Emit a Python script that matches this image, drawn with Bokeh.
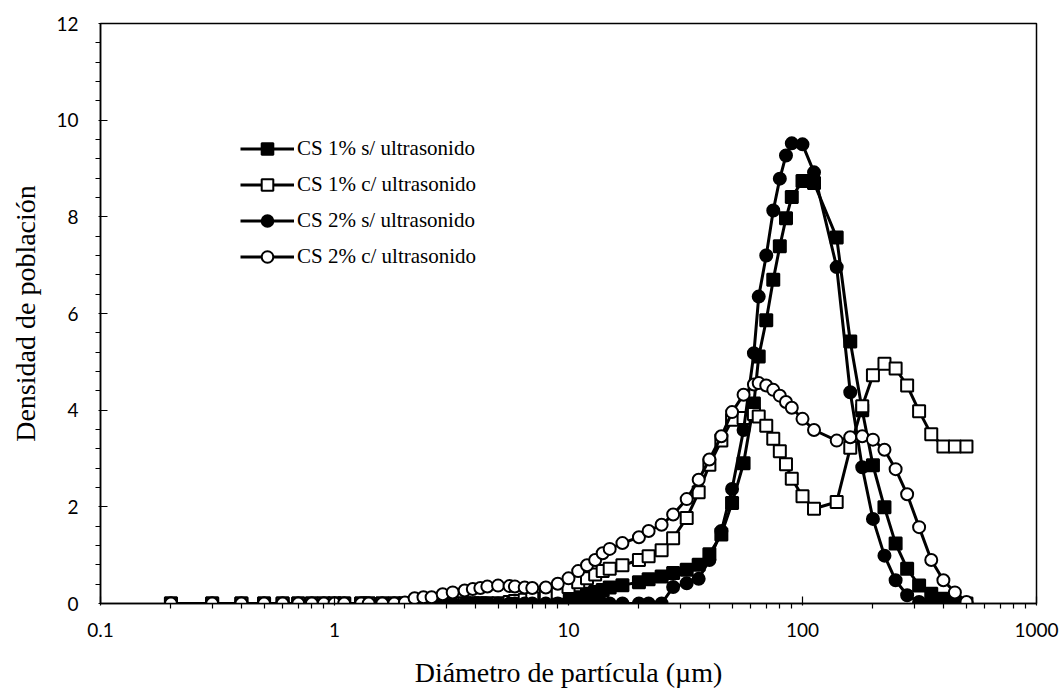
from bokeh.plotting import figure
from bokeh.models import (FixedTicker, CustomJSTickFormatter, Legend, LegendItem,
                          Range1d)
from bokeh.embed import file_html
from bokeh.resources import INLINE

# Particle diameter (µm), shared by all four distributions
diametro = [0.2, 0.3, 0.4, 0.5, 0.6, 0.7, 0.8, 0.9, 1.0,
            1.1, 1.3, 1.4, 1.6, 1.8, 2.0,
            2.2, 2.4, 2.6, 2.9, 3.2,
            3.6, 3.9, 4.2, 4.5, 5.0,
            5.6, 5.9, 6.5, 7.0, 8.0, 9.0,
            10, 11, 12, 13, 14, 15, 17, 20, 22, 25,
            28, 32, 36, 40, 45, 50, 56, 62, 65, 70,
            75, 80, 85, 90, 100, 112, 140, 160, 180, 200,
            224, 250, 280, 315, 355, 400, 448, 502]

# Population density for each sample
cs1_sin = ([0.0] * 9 + [0.0] * 6 + [0.0] * 5 + [0.0] * 5 +
           [0.0, 0.0, 0.0, 0.0, 0.0, 0.03] +
           [0.06, 0.13, 0.20, 0.24, 0.28, 0.33, 0.38, 0.44, 0.50, 0.56] +
           [0.63, 0.70, 0.80, 1.02, 1.43, 2.08, 2.90, 4.14, 5.11, 5.86] +
           [6.70, 7.39, 7.97, 8.41, 8.74, 8.70, 7.57, 5.42, 4.00, 2.86] +
           [1.99, 1.24, 0.72, 0.37, 0.20, 0.10, 0.03, 0.0])

cs1_con = ([0.0] * 9 + [0.0] * 6 + [0.0] * 5 + [0.0] * 5 +
           [0.03, 0.05, 0.08, 0.11, 0.17, 0.22] +
           [0.34, 0.44, 0.52, 0.60, 0.67, 0.72, 0.79, 0.90, 0.98, 1.10] +
           [1.35, 1.77, 2.30, 2.87, 3.37, 3.80, 3.84, 3.92, 3.87, 3.68] +
           [3.41, 3.15, 2.88, 2.58, 2.22, 1.96, 2.10, 3.22, 4.08, 4.72] +
           [4.96, 4.86, 4.51, 3.98, 3.50, 3.25, 3.25, 3.25])

cs2_sin = ([0.0] * 9 + [0.0] * 6 + [0.0] * 5 + [0.0] * 5 + [0.0] * 6 +
           [0.0] * 10 +
           [0.34, 0.42, 0.51, 0.90, 1.50, 2.37, 3.59, 5.18, 6.35, 7.20] +
           [8.13, 8.79, 9.27, 9.52, 9.50, 8.92, 6.96, 4.37, 2.82, 1.75] +
           [0.99, 0.48, 0.17, 0.03, 0.0, 0.0, 0.0, 0.0])

cs2_con = ([0.0] * 9 +
           [0.0, 0.0, 0.0, 0.0, 0.0, 0.02] +
           [0.11, 0.13, 0.13, 0.19, 0.23] +
           [0.27, 0.30, 0.32, 0.35, 0.37] +
           [0.36, 0.35, 0.33, 0.32, 0.33, 0.41] +
           [0.52, 0.67, 0.79, 0.90, 1.04, 1.13, 1.25, 1.37, 1.50, 1.63] +
           [1.84, 2.16, 2.56, 2.98, 3.46, 3.96, 4.32, 4.53, 4.56, 4.51] +
           [4.42, 4.30, 4.17, 4.05, 3.82, 3.59, 3.37, 3.44, 3.46, 3.39] +
           [3.18, 2.78, 2.26, 1.58, 0.90, 0.48, 0.23, 0.03])

etiquetas = ["CS 1% s/ ultrasonido", "CS 1% c/ ultrasonido",
             "CS 2% s/ ultrasonido", "CS 2% c/ ultrasonido"]
series = [cs1_sin, cs1_con, cs2_sin, cs2_con]
marcadores = ["square", "square", "circle", "circle"]
rellenos = ["black", "white", "black", "white"]

x_ticks = [0.1, 1, 10, 100, 1000]
y_ticks = [0, 2, 4, 6, 8, 10, 12]

p = figure(width=1063, height=690, x_axis_type="log",
           x_range=Range1d(0.1, 1000), y_range=Range1d(0, 12),
           output_backend="svg", toolbar_location=None,
           min_border_left=100, min_border_right=27,
           min_border_top=23, min_border_bottom=87)

p.background_fill_color = "white"
p.border_fill_color = "white"
p.outline_line_color = "black"
p.outline_line_width = 1.5
p.xgrid.visible = False
p.ygrid.visible = False

items = []
for nombre, ys, mk, fill in zip(etiquetas, series, marcadores, rellenos):
    r_line = p.line(diametro, ys, line_color="black", line_width=3)
    r_pts = p.scatter(diametro, ys, marker=mk, size=12, fill_color=fill,
                      line_color="black", line_width=2)
    items.append(LegendItem(label=nombre, renderers=[r_line, r_pts]))

legend = Legend(items=items, location=(140, 332),
                glyph_width=54, glyph_height=29, spacing=7,
                padding=0, margin=0, label_standoff=3,
                label_text_font="Liberation Serif",
                label_text_font_size="21px", label_text_color="black",
                border_line_alpha=0, background_fill_alpha=0)
p.add_layout(legend)

minor_x = [k * 10.0 ** e for e in range(-1, 3) for k in range(2, 10)]
minor_y = [round(0.4 * i, 1) for i in range(31) if i % 5 != 0]

xa = p.xaxis[0]
xa.ticker = FixedTicker(ticks=x_ticks, minor_ticks=minor_x)
xa.formatter = CustomJSTickFormatter(code="return tick.toString();")
ya = p.yaxis[0]
ya.ticker = FixedTicker(ticks=y_ticks, minor_ticks=minor_y)

for ax in (xa, ya):
    ax.axis_line_color = "black"
    ax.axis_line_width = 1.5
    ax.major_tick_line_color = "black"
    ax.minor_tick_line_color = "black"
    ax.major_tick_line_width = 1.2
    ax.minor_tick_line_width = 1.2
    ax.major_tick_in = 7
    ax.major_tick_out = 2
    ax.minor_tick_in = 0
    ax.minor_tick_out = 5
    ax.major_label_text_font = "Lato"
    ax.major_label_text_font_size = "19px"
    ax.major_label_text_color = "black"
    ax.axis_label_text_font = "Liberation Serif"
    ax.axis_label_text_font_size = "28px"
    ax.axis_label_text_font_style = "normal"
    ax.axis_label_text_color = "black"

xa.axis_label = "Diámetro de partícula (µm)"
xa.major_label_standoff = 14
xa.axis_label_standoff = 17
ya.axis_label = "Densidad de población"
ya.major_label_standoff = 17
ya.axis_label_standoff = 12

open("out.html", "w").write(file_html(p, INLINE))
